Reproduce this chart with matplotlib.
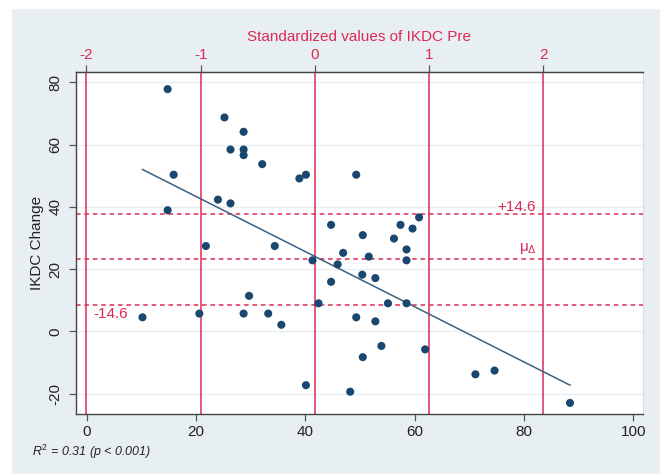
import numpy as np
import matplotlib
matplotlib.use("Agg")
import matplotlib.pyplot as plt
from matplotlib.patches import Rectangle

plt.rcParams['font.family'] = ['Liberation Sans', 'DejaVu Sans']
plt.rcParams['mathtext.fontset'] = 'custom'
plt.rcParams['mathtext.rm'] = 'Liberation Sans'
plt.rcParams['mathtext.it'] = 'Liberation Sans:italic'
plt.rcParams['axes.unicode_minus'] = False

# ---- data ----
ikdc_pre = [14.8, 25.2, 28.7, 26.3, 28.7, 28.7, 32.1, 15.9, 24.0, 26.3,
            14.8, 38.9, 40.1, 49.3, 44.7, 50.5, 56.2, 57.4, 59.6, 60.8,
            58.5, 46.9, 51.6, 58.5, 41.3, 45.9, 50.4, 52.8, 44.7, 42.4,
            55.1, 58.5, 49.3, 52.8, 53.9, 50.5, 61.9, 71.1, 74.6, 40.1,
            48.2, 21.8, 34.4, 29.7, 10.2, 20.6, 28.7, 33.2, 35.6, 88.4]
ikdc_change = [77.8, 68.7, 64.1, 58.4, 58.4, 56.6, 53.7, 50.3, 42.3, 41.1,
               38.9, 49.1, 50.3, 50.3, 34.2, 30.9, 29.8, 34.2, 33.0, 36.6,
               26.3, 25.2, 24.0, 22.8, 22.8, 21.5, 18.2, 17.1, 15.9, 9.0,
               9.0, 9.0, 4.5, 3.2, -4.7, -8.3, -5.8, -13.8, -12.6, -17.3,
               -19.4, 27.4, 27.4, 11.4, 4.5, 5.7, 5.7, 5.7, 2.1, -23.0]
pre_mean, pre_sd = 41.75, 20.9          # IKDC Pre mean / SD (top axis)
change_mean, change_band = 23.2, 14.6   # mean change and +/- band
fit_start, fit_end = (10.2, 52.0), (88.4, -17.3)   # fitted line as drawn
x_ticks = [0, 20, 40, 60, 80, 100]
y_ticks = [-20, 0, 20, 40, 60, 80]
z_ticks = [-2, -1, 0, 1, 2]
r2_label = r"$R^2$ = 0.31 (p < 0.001)"

RED = '#DC2A55'
NAVY = '#1A476F'
BG = '#E8EFF2'

fig = plt.figure(figsize=(6.65, 4.74), dpi=100, facecolor='white')
fig.patches.append(Rectangle((12/665, 0), (660-12)/665, (474-9)/474,
                             transform=fig.transFigure, facecolor=BG,
                             edgecolor='none', zorder=-10))
ax = fig.add_axes([76/665, (474-413.5)/474, (642.7-76)/665, (413.5-71.7)/474])
ax.set_facecolor('white')
ax.set_xlim(-1.96, 101.7)
ax.set_ylim(-26.4, 83.4)

# grid
for yv in y_ticks:
    ax.axhline(yv, color='#E6EEF1', lw=1.0, zorder=0)

# vertical red lines at standardized values
for z in z_ticks:
    ax.axvline(pre_mean + z * pre_sd, color=RED, lw=1.1, zorder=1)

# horizontal dashed lines
for yv in (change_mean - change_band, change_mean, change_mean + change_band):
    ax.axhline(yv, color=RED, lw=1.1, ls=(0, (3, 2.5)), zorder=1)

# fitted line
ax.plot([fit_start[0], fit_end[0]], [fit_start[1], fit_end[1]],
        color='#3F5F7F', lw=1.1, zorder=2)

ax.scatter(ikdc_pre, ikdc_change, s=34, color=NAVY, edgecolor='none', zorder=3)

# labels on lines
ax.text(1.2, change_mean - change_band - 3.0, '-14.6', color=RED, fontsize=11,
        ha='left', va='center')
ax.text(82.2, change_mean + change_band + 2.0, '+14.6', color=RED, fontsize=11,
        ha='right', va='center')
ax.text(82.4, change_mean + 3.5, r'$\mathregular{\mu}_{\Delta}$', color=RED,
        fontsize=11, ha='right', va='center')

# axes styling
ax.set_xticks(x_ticks)
ax.set_yticks(y_ticks)
ax.tick_params(axis='both', direction='out', length=5, width=0.9,
               color='#555555', labelsize=11, labelcolor='#222222')
ax.tick_params(axis='x', pad=3)
for lab in ax.get_yticklabels():
    lab.set_rotation(90)
    lab.set_va('center')
    lab.set_ha('center')
ax.yaxis.set_tick_params(pad=10)
ax.set_ylabel('IKDC Change', fontsize=11, color='#222222', labelpad=3)

for side in ('left', 'bottom', 'top'):
    ax.spines[side].set_color('#444444')
    ax.spines[side].set_linewidth(1.0)
ax.spines['right'].set_color('#D5DDE0')
ax.spines['right'].set_linewidth(0.8)

# top standardized axis
sec = ax.secondary_xaxis('top', functions=(lambda v: (v - pre_mean) / pre_sd,
                                           lambda z: z * pre_sd + pre_mean))
sec.set_xticks(z_ticks)
sec.set_xticklabels([str(z) for z in z_ticks])
sec.tick_params(direction='out', length=5, width=0.9, color='#555555',
                labelsize=11, labelcolor=RED, pad=2)
sec.spines['top'].set_color('#444444')
sec.set_xlabel('Standardized values of IKDC Pre', color=RED, fontsize=11,
               labelpad=5)

fig.text(32/665, 1 - 452/474, r2_label, fontsize=9, style='italic',
         color='#222222', ha='left', va='center')

fig.savefig('out.png', dpi=100, facecolor='white')
